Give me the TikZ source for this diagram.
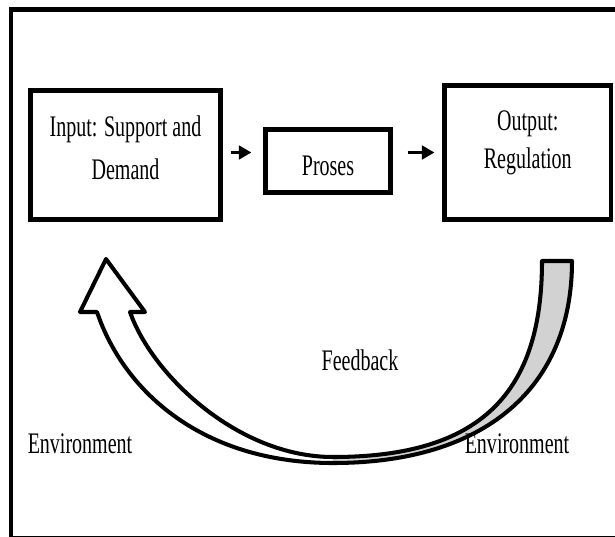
\documentclass[tikz,border=0pt]{standalone}
\usepackage{fontspec}
\newfontfamily\tnr[FakeStretch=0.67]{Liberation Serif}
\usetikzlibrary{arrows.meta}
\tikzset{
  txt/.style={font=\tnr\fontsize{17}{21.6}\selectfont},
  box/.style={txt, draw, line width=2.4pt, align=center, anchor=base, inner ysep=0pt},
  lbl/.style={txt, anchor=base},
  flow/.style={line width=2pt, -{Triangle[length=0.25cm,width=0.27cm]}},
}
\begin{document}
\begin{tikzpicture}[x=0.02cm,y=0.02cm]
\useasboundingbox (0,0) rectangle (615,-537);
\clip (0,0) rectangle (615,-537);
\draw[line width=2.6pt] (11,-9.5) rectangle (640,-538);

\node[box, minimum width=3.8cm, text height=1.77cm, text depth=0.81cm] (inp) at (125.5,-179) {Input: Support and\\[2.8pt]Demand};
\node[box, minimum width=2.5cm, text height=0.91cm, text depth=0.35cm] (pro) at (328,-175) {Proses};
\node[box, minimum width=3.33cm, text height=1.65cm, text depth=1.03cm] (out) at (527.8,-168) {Output:\\Regulation};

\draw[flow] ([xshift=0.16cm]inp.east |- out.west) -- ([xshift=-0.24cm]pro.west |- out.west);
\draw[flow] ([xshift=0.3cm]pro.east |- out.west) -- ([xshift=-0.16cm]out.west);

% feedback arrow
\def\fbpath{(572,-261) .. controls (572,-388) and (485,-463) .. (333,-463)
  .. controls (203,-463) and (124,-392) .. (97,-312) -- (80,-312) -- (106,-259)
  -- (145,-312) -- (130,-312) .. controls (152,-375) and (238,-457) .. (333,-457)
  .. controls (482,-457) and (542,-392) .. (542,-261) -- cycle}
\fill[gray!35] (572,-261) .. controls (572,-388) and (485,-463) .. (333,-463)
  -- (333,-457) .. controls (482,-457) and (542,-392) .. (542,-261) -- cycle;
\draw[line width=2.3pt, line join=round] \fbpath;

\node[lbl] (fb) at (360,-370) {Feedback};
\node[lbl] (envl) at (80,-453) {Environment};
\node[lbl] (envr) at (517,-453) {Environment};
\end{tikzpicture}
\end{document}
